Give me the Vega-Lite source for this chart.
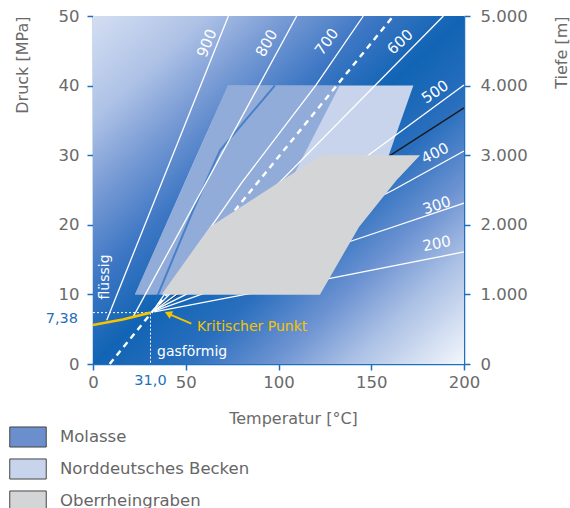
{
"$schema":"https://vega.github.io/schema/vega-lite/v6.json",
"width":371,"height":348,
"autosize":{"type":"none"},
"padding":{"left":93,"top":16,"right":106,"bottom":144},
"background":"white",
"config":{"view":{"stroke":null},
 "axis":{"grid":false,"domainColor":"#1f6fbf","domainWidth":1.5,"tickColor":"#1f6fbf","tickWidth":1.5,"tickSize":6,"labelFont":"DejaVu Sans","labelFontSize":16.5,"labelColor":"#6a6a6a","titleFont":"DejaVu Sans","titleFontSize":16,"titleFontWeight":"normal","titleColor":"#6a6a6a","labelOverlap":false,"labelFlush":false}},
"datasets":{
 "bg":[{"T":0,"T2":200,"P":0,"P2":50}],
 "polys":[
  {"region":"Norddeutsches Becken","P":10,"Tl":22.6,"Tr":122},
  {"region":"Norddeutsches Becken","P":29.8,"Tl":55.6,"Tr":159.2},
  {"region":"Norddeutsches Becken","P":40,"Tl":72.8,"Tr":172.7},
  {"region":"Molasse","P":10,"Tl":22.6,"Tr":75},
  {"region":"Molasse","P":40,"Tl":72.8,"Tr":133},
  {"region":"Oberrheingraben","P":10,"Tl":37,"Tr":122.4},
  {"region":"Oberrheingraben","P":19.7,"Tl":63,"Tr":143.4},
  {"region":"Oberrheingraben","P":26.4,"Tl":102,"Tr":163.6},
  {"region":"Oberrheingraben","P":30,"Tl":123,"Tr":176.3}
 ],
 "lines":[
  {"id":"black","T":33,"P":7.8},{"id":"black","T":159.2,"P":29.8},{"id":"black","T":200,"P":36.8},
  {"id":"blue","T":33.5,"P":9},{"id":"blue","T":54,"P":22.1},{"id":"blue","T":68.5,"P":30.7},{"id":"blue","T":98,"P":40},
  {"id":"d900","T":7.4,"P":6.3},{"id":"d900","T":73,"P":50},
  {"id":"d800","T":21.7,"P":6.8},{"id":"d800","T":109.8,"P":50},
  {"id":"d700","T":33,"P":7.9},{"id":"d700","T":80,"P":26},{"id":"d700","T":120,"P":40},{"id":"d700","T":145.7,"P":50},
  {"id":"d600","T":33,"P":7.8},{"id":"d600","T":188.9,"P":50},
  {"id":"d500","T":33,"P":7.7},{"id":"d500","T":147.5,"P":29.8},{"id":"d500","T":200,"P":40.1},
  {"id":"d400","T":33,"P":7.7},{"id":"d400","T":161.9,"P":25},{"id":"d400","T":200,"P":30.6},
  {"id":"d300","T":33,"P":7.6},{"id":"d300","T":138.5,"P":17.6},{"id":"d300","T":200,"P":23.1},
  {"id":"d200","T":33,"P":7.5},{"id":"d200","T":127.8,"P":12.3},{"id":"d200","T":200,"P":16.1},
  {"id":"dash","T":9,"P":0},{"id":"dash","T":161.9,"P":50},
  {"id":"dotH","T":0,"P":7.38},{"id":"dotH","T":31,"P":7.38},
  {"id":"dotV","T":31,"P":7.38},{"id":"dotV","T":31,"P":0},
  {"id":"yellow","T":0,"P":5.6},{"id":"yellow","T":16,"P":6.4},{"id":"yellow","T":31,"P":7.38},
  {"id":"arrow","T":53,"P":5.8},{"id":"arrow","T":42,"P":7.05}
 ],
 "labels":[
  {"label":"900","T":61.3,"P":46.1},
  {"label":"800","T":93.6,"P":46.1},
  {"label":"700","T":126,"P":46.3},
  {"label":"600","T":165.5,"P":46.3},
  {"label":"500","T":184.4,"P":39.1},
  {"label":"400","T":184.4,"P":30.3},
  {"label":"300","T":185.3,"P":22.8},
  {"label":"200","T":185.3,"P":17.3}
 ],
 "notes":[
  {"kind":"fl","text":"flüssig","T":6.5,"P":12.5},
  {"kind":"gas","text":"gasförmig","T":34.5,"P":1.7},
  {"kind":"kp","text":"Kritischer Punkt","T":56,"P":5.3},
  {"kind":"py","text":"7,38","T":0,"P":7.38},
  {"kind":"tx","text":"31,0","T":31,"P":0},
  {"kind":"tip","text":"","T":40.5,"P":7.25}
 ]
},
"layer":[
 {"layer":[
  {"data":{"name":"bg"},
   "mark":{"type":"rect","fill":{"gradient":"linear","x1":0,"y1":0,"x2":1,"y2":1,"stops":[
     {"offset":0,"color":"#d4def2"},{"offset":0.15,"color":"#aec2e6"},{"offset":0.25,"color":"#7d9ed6"},
     {"offset":0.38,"color":"#3e77c4"},{"offset":0.5,"color":"#1164b4"},{"offset":0.62,"color":"#2a6fbe"},
     {"offset":0.74,"color":"#6d93d2"},{"offset":0.84,"color":"#a9bfe4"},{"offset":1,"color":"#f4f7fc"}]}},
   "encoding":{
    "x":{"field":"T","type":"quantitative","scale":{"domain":[0,200],"nice":false},
         "axis":{"values":[0,50,100,150,200],"labelPadding":4,"title":"Temperatur [°C]","titleX":200,"titleY":59,"titleAlign":"center","titleBaseline":"alphabetic"}},
    "x2":{"field":"T2"},
    "y":{"field":"P","type":"quantitative","scale":{"domain":[0,50],"nice":false},
         "axis":{"values":[0,10,20,30,40,50],"labelPadding":8,"title":"Druck [MPa]","titleAngle":-90,"titleX":-71,"titleY":0,"titleAlign":"right","titleBaseline":"middle"}},
    "y2":{"field":"P2"}}},
  {"data":{"name":"lines"},"transform":[{"filter":"datum.id == 'black'"}],
   "mark":{"type":"line","color":"#1a1a1a","strokeWidth":1.3},
   "encoding":{"x":{"field":"T","type":"quantitative"},"y":{"field":"P","type":"quantitative"}}},
  {"data":{"name":"polys"},"transform":[{"filter":"datum.region == 'Norddeutsches Becken'"}],
   "mark":{"type":"area","orient":"horizontal","opacity":1},
   "encoding":{"y":{"field":"P","type":"quantitative"},"x":{"field":"Tl","type":"quantitative"},"x2":{"field":"Tr"},
    "color":{"field":"region","type":"nominal","scale":{"domain":["Molasse","Norddeutsches Becken","Oberrheingraben"],"range":["#6a8fcc","#c8d4ec","#d4d5d7"]},
     "legend":{"orient":"none","legendX":-84,"legendY":402,"title":null,"symbolType":"M-1,-0.55L1,-0.55L1,0.55L-1,0.55Z","symbolSize":1330,"symbolStrokeColor":"#555","symbolStrokeWidth":1,"symbolOpacity":1,"labelFont":"DejaVu Sans","labelFontSize":16.5,"labelColor":"#666","labelOffset":13,"labelLimit":400,"rowPadding":-11,
      "encode":{"symbols":{"update":{"opacity":{"value":1},"fillOpacity":{"value":1},"strokeOpacity":{"value":1},"stroke":{"value":"#444444"},"strokeWidth":{"value":1}}}}}}}},
  {"data":{"name":"lines"},"transform":[{"filter":"datum.id == 'blue'"}],
   "mark":{"type":"line","color":"#1a6cc0","strokeWidth":2},
   "encoding":{"x":{"field":"T","type":"quantitative"},"y":{"field":"P","type":"quantitative"}}},
  {"data":{"name":"polys"},"transform":[{"filter":"datum.region == 'Molasse'"}],
   "mark":{"type":"area","orient":"horizontal","opacity":0.58},
   "encoding":{"y":{"field":"P","type":"quantitative"},"x":{"field":"Tl","type":"quantitative"},"x2":{"field":"Tr"},
    "color":{"field":"region","type":"nominal"}}},
  {"data":{"name":"lines"},"transform":[{"filter":"indexof(datum.id, 'd') == 0 && datum.id != 'dash' && datum.id != 'dotH' && datum.id != 'dotV'"}],
   "mark":{"type":"line","color":"white","strokeWidth":1.3},
   "encoding":{"x":{"field":"T","type":"quantitative"},"y":{"field":"P","type":"quantitative"},"detail":{"field":"id"}}},
  {"data":{"name":"lines"},"transform":[{"filter":"datum.id == 'dash'"}],
   "mark":{"type":"line","color":"white","strokeWidth":2.4,"strokeDash":[6,5]},
   "encoding":{"x":{"field":"T","type":"quantitative"},"y":{"field":"P","type":"quantitative"}}},
  {"data":{"name":"polys"},"transform":[{"filter":"datum.region == 'Oberrheingraben'"}],
   "mark":{"type":"area","orient":"horizontal","opacity":1},
   "encoding":{"y":{"field":"P","type":"quantitative"},"x":{"field":"Tl","type":"quantitative"},"x2":{"field":"Tr"},
    "color":{"field":"region","type":"nominal"}}},
  {"data":{"name":"lines"},"transform":[{"filter":"datum.id == 'dotH' || datum.id == 'dotV'"}],
   "mark":{"type":"line","color":"white","strokeWidth":1,"strokeDash":[2,2]},
   "encoding":{"x":{"field":"T","type":"quantitative"},"y":{"field":"P","type":"quantitative"},"detail":{"field":"id"}}},
  {"data":{"name":"lines"},"transform":[{"filter":"datum.id == 'yellow'"}],
   "mark":{"type":"line","color":"#f5c400","strokeWidth":2.6},
   "encoding":{"x":{"field":"T","type":"quantitative"},"y":{"field":"P","type":"quantitative"}}},
  {"data":{"name":"lines"},"transform":[{"filter":"datum.id == 'arrow'"}],
   "mark":{"type":"line","color":"#f5c400","strokeWidth":1.8},
   "encoding":{"x":{"field":"T","type":"quantitative"},"y":{"field":"P","type":"quantitative"}}},
  {"data":{"name":"notes"},"transform":[{"filter":"datum.kind == 'tip'"}],
   "mark":{"type":"point","shape":"triangle-up","filled":true,"color":"#f5c400","opacity":1,"size":70,"angle":294},
   "encoding":{"x":{"field":"T","type":"quantitative"},"y":{"field":"P","type":"quantitative"}}},
  {"data":{"name":"labels"},"transform":[{"filter":"datum.label == '900'"}],
   "mark":{"type":"text","color":"white","font":"DejaVu Sans","fontSize":15,"angle":292,"align":"center","baseline":"middle"},
   "encoding":{"x":{"field":"T","type":"quantitative"},"y":{"field":"P","type":"quantitative"},"text":{"field":"label"}}},
  {"data":{"name":"labels"},"transform":[{"filter":"datum.label == '800'"}],
   "mark":{"type":"text","color":"white","font":"DejaVu Sans","fontSize":15,"angle":299,"align":"center","baseline":"middle"},
   "encoding":{"x":{"field":"T","type":"quantitative"},"y":{"field":"P","type":"quantitative"},"text":{"field":"label"}}},
  {"data":{"name":"labels"},"transform":[{"filter":"datum.label == '700'"}],
   "mark":{"type":"text","color":"white","font":"DejaVu Sans","fontSize":15,"angle":306,"align":"center","baseline":"middle"},
   "encoding":{"x":{"field":"T","type":"quantitative"},"y":{"field":"P","type":"quantitative"},"text":{"field":"label"}}},
  {"data":{"name":"labels"},"transform":[{"filter":"datum.label == '600'"}],
   "mark":{"type":"text","color":"white","font":"DejaVu Sans","fontSize":15,"angle":317,"align":"center","baseline":"middle"},
   "encoding":{"x":{"field":"T","type":"quantitative"},"y":{"field":"P","type":"quantitative"},"text":{"field":"label"}}},
  {"data":{"name":"labels"},"transform":[{"filter":"datum.label == '500'"}],
   "mark":{"type":"text","color":"white","font":"DejaVu Sans","fontSize":15,"angle":326,"align":"center","baseline":"middle"},
   "encoding":{"x":{"field":"T","type":"quantitative"},"y":{"field":"P","type":"quantitative"},"text":{"field":"label"}}},
  {"data":{"name":"labels"},"transform":[{"filter":"datum.label == '400'"}],
   "mark":{"type":"text","color":"white","font":"DejaVu Sans","fontSize":15,"angle":333,"align":"center","baseline":"middle"},
   "encoding":{"x":{"field":"T","type":"quantitative"},"y":{"field":"P","type":"quantitative"},"text":{"field":"label"}}},
  {"data":{"name":"labels"},"transform":[{"filter":"datum.label == '300'"}],
   "mark":{"type":"text","color":"white","font":"DejaVu Sans","fontSize":15,"angle":342,"align":"center","baseline":"middle"},
   "encoding":{"x":{"field":"T","type":"quantitative"},"y":{"field":"P","type":"quantitative"},"text":{"field":"label"}}},
  {"data":{"name":"labels"},"transform":[{"filter":"datum.label == '200'"}],
   "mark":{"type":"text","color":"white","font":"DejaVu Sans","fontSize":15,"angle":349,"align":"center","baseline":"middle"},
   "encoding":{"x":{"field":"T","type":"quantitative"},"y":{"field":"P","type":"quantitative"},"text":{"field":"label"}}},
  {"data":{"name":"notes"},"transform":[{"filter":"datum.kind == 'fl'"}],
   "mark":{"type":"text","color":"white","font":"DejaVu Sans","fontSize":14,"angle":270,"align":"center","baseline":"middle"},
   "encoding":{"x":{"field":"T","type":"quantitative"},"y":{"field":"P","type":"quantitative"},"text":{"field":"text"}}},
  {"data":{"name":"notes"},"transform":[{"filter":"datum.kind == 'gas'"}],
   "mark":{"type":"text","color":"white","font":"DejaVu Sans","fontSize":14,"align":"left","baseline":"middle"},
   "encoding":{"x":{"field":"T","type":"quantitative"},"y":{"field":"P","type":"quantitative"},"text":{"field":"text"}}},
  {"data":{"name":"notes"},"transform":[{"filter":"datum.kind == 'kp'"}],
   "mark":{"type":"text","color":"#f5c400","font":"DejaVu Sans","fontSize":14,"align":"left","baseline":"middle"},
   "encoding":{"x":{"field":"T","type":"quantitative"},"y":{"field":"P","type":"quantitative"},"text":{"field":"text"}}},
  {"data":{"name":"notes"},"transform":[{"filter":"datum.kind == 'py'"}],
   "mark":{"type":"text","color":"#1f6fbf","font":"DejaVu Sans","fontSize":14.5,"align":"right","baseline":"middle","dx":-15,"dy":6},
   "encoding":{"x":{"field":"T","type":"quantitative"},"y":{"field":"P","type":"quantitative"},"text":{"field":"text"}}},
  {"data":{"name":"notes"},"transform":[{"filter":"datum.kind == 'tx'"}],
   "mark":{"type":"text","color":"#1f6fbf","font":"DejaVu Sans","fontSize":14.5,"align":"center","baseline":"middle","dy":17},
   "encoding":{"x":{"field":"T","type":"quantitative"},"y":{"field":"P","type":"quantitative"},"text":{"field":"text"}}}
 ]},
 {"data":{"values":[{"D":0},{"D":5000}]},
  "mark":{"type":"point","opacity":0},
  "encoding":{"y":{"field":"D","type":"quantitative","scale":{"domain":[0,5000],"nice":false},
   "axis":{"orient":"right","values":[0,1000,2000,3000,4000,5000],"labelExpr":"replace(format(datum.value, ','), ',', '.')","labelPadding":10,"title":"Tiefe [m]","titleAngle":-90,"titleX":97,"titleY":0,"titleAlign":"right","titleBaseline":"middle"}}}}
],
"resolve":{"scale":{"y":"independent"}}
}
